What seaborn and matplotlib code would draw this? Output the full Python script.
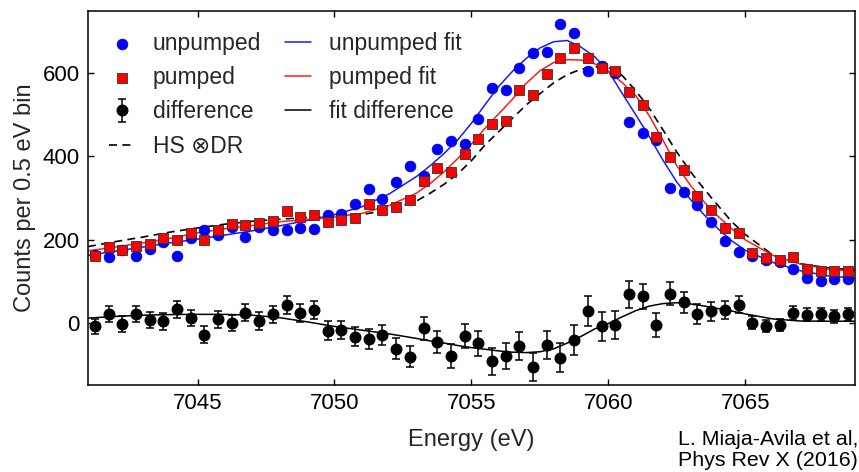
import matplotlib
matplotlib.use("Agg")
import matplotlib.pyplot as plt
import seaborn as sns

# ---------------- data ----------------
energy = [7041.25, 7041.75, 7042.25, 7042.75, 7043.25, 7043.75, 7044.25, 7044.75,
          7045.25, 7045.75, 7046.25, 7046.75, 7047.25, 7047.75, 7048.25, 7048.75,
          7049.25, 7049.75, 7050.25, 7050.75, 7051.25, 7051.75, 7052.25, 7052.75,
          7053.25, 7053.75, 7054.25, 7054.75, 7055.25, 7055.75, 7056.25, 7056.75,
          7057.25, 7057.75, 7058.25, 7058.75, 7059.25, 7059.75, 7060.25, 7060.75,
          7061.25, 7061.75, 7062.25, 7062.75, 7063.25, 7063.75, 7064.25, 7064.75,
          7065.25, 7065.75, 7066.25, 7066.75, 7067.25, 7067.75, 7068.25, 7068.75]

unpumped = [163, 158, 175, 160, 177, 194, 161, 203, 223, 212, 230, 206, 231, 224,
            223, 228, 225, 259, 261, 285, 321, 298, 338, 376, 352, 418, 436, 431,
            490, 565, 560, 614, 650, 651, 718, 698, 606, 617, 600, 484, 457, 440,
            323, 315, 283, 243, 197, 169, 160, 150, 145, 128, 107, 100, 104, 104]

pumped = [160, 182, 176, 184, 190, 203, 199, 216, 199, 224, 237, 234, 239, 245,
          269, 255, 259, 243, 246, 252, 285, 271, 278, 295, 341, 372, 362, 405,
          443, 477, 485, 561, 547, 599, 636, 661, 636, 612, 606, 555, 523, 447,
          398, 367, 305, 271, 229, 216, 167, 155, 150, 157, 129, 124, 124, 124]

difference = [-9, 20, -3, 20, 7, 3, 32, 11, -29, 8, -1, 24, 4, 20, 42, 23, 31, -19,
              -17, -34, -39, -29, -63, -82, -14, -46, -80, -32, -50, -93, -80, -56,
              -106, -54, -84, -42, 27, -9, -5, 68, 64, -5, 70, 49, 20, 27, 31, 43,
              0, -8, -5, 24, 19, 20, 15, 20]

difference_err = [19, 19, 19, 19, 19, 20, 21, 20, 20, 20, 20, 21, 21, 21,
                  22, 22, 22, 22, 22, 23, 24, 24, 25, 25, 27, 27, 28, 29, 30,
                  32, 32, 33, 34, 34, 35, 36, 36, 35, 34, 32, 30, 29, 27,
                  25, 24, 23, 22, 20, 16, 15, 15, 17, 16, 16, 16, 16]

fit_energy = [7041, 7042, 7043, 7044, 7045, 7046, 7047, 7048, 7049, 7050, 7051, 7052,
              7053, 7053.5, 7054, 7054.5, 7055, 7055.5, 7056, 7056.5, 7057, 7057.5,
              7058, 7058.5, 7059, 7059.5, 7060, 7060.5, 7061, 7061.5, 7062, 7062.5,
              7063, 7063.5, 7064, 7064.5, 7065, 7066, 7067, 7068, 7069]

unpumped_fit = [162, 172, 182, 192, 201, 211, 221, 233, 246, 260, 279, 310,
                352, 378, 407, 440, 480, 525, 569, 605, 636, 661,
                676, 679, 663, 640, 605, 552, 500, 447, 390, 338,
                296, 259, 226, 197, 174, 145, 125, 113, 107]

pumped_fit = [173, 182, 192, 203, 216, 226, 234, 243, 248, 254, 263, 282,
              312, 335, 363, 395, 430, 468, 503, 538, 576, 606,
              626, 633, 632, 623, 605, 578, 546, 497, 438, 377,
              330, 290, 256, 226, 199, 162, 141, 129, 123]

hs_dr = [183, 195, 206, 218, 228, 237, 244, 249, 253, 256, 260, 272,
         293, 312, 333, 358, 390, 428, 460, 492, 524, 551,
         577, 597, 610, 616, 614, 595, 558, 515, 463, 410,
         363, 321, 282, 243, 212, 163, 142, 132, 127]

fit_difference = [11, 15, 18, 19.5, 20, 20, 18, 12, 2, -9, -18, -27,
                  -38, -44, -49, -55, -60, -64, -68, -71, -72, -70,
                  -63, -49, -33, -15, -2, 14, 29, 40, 46, 48,
                  45, 40, 34, 28, 21, 9, 4, 3.5, 3.5]

x_ticks = [7045, 7050, 7055, 7060, 7065]
y_ticks = [0, 200, 400, 600]

# ---------------- style ----------------
sns.set_theme(style="ticks")
plt.rcParams["font.family"] = ["Liberation Sans", "DejaVu Sans"]
plt.rcParams["axes.linewidth"] = 1.1
plt.rcParams["axes.edgecolor"] = "black"

fig = plt.figure(figsize=(8.59, 4.72), dpi=100)
ax = fig.add_axes([0.1024, 0.1843, 0.8929, 0.7924])

# fit curves
sns.lineplot(x=fit_energy, y=hs_dr, ax=ax, color="black", lw=1.2,
             linestyle=(0, (4.8, 3.2)), label="HS \u2297DR", zorder=2)
sns.lineplot(x=fit_energy, y=unpumped_fit, ax=ax, color="#1a1aff", lw=1.1,
             label="unpumped fit", zorder=2)
sns.lineplot(x=fit_energy, y=pumped_fit, ax=ax, color="#ff1a1a", lw=1.1,
             label="pumped fit", zorder=2)
sns.lineplot(x=fit_energy, y=fit_difference, ax=ax, color="black", lw=1.1,
             label="fit difference", zorder=2)

# data points
sns.scatterplot(x=energy, y=unpumped, ax=ax, color="#0000ff", marker="o", s=60,
                edgecolor="#0000cc", linewidth=0.5, label="unpumped", zorder=3)
sns.scatterplot(x=energy, y=pumped, ax=ax, color="#ff0000", marker="s", s=60,
                edgecolor="#333333", linewidth=0.6, label="pumped", zorder=4)
ax.errorbar(energy, difference, yerr=difference_err, fmt="o", color="black",
            ms=7.6, capsize=3.2, elinewidth=1.1, capthick=1.1,
            label="difference", zorder=3)

ax.set_xlim(7041, 7069)
ax.set_ylim(-150, 750)
ax.set_xticks(x_ticks)
ax.set_yticks(y_ticks)
ax.tick_params(direction="in", top=True, right=True, length=4.5, width=1,
               labelsize=16, pad=6, colors="black")
ax.set_xlabel("Energy (eV)", fontsize=17, labelpad=10.5)
ax.set_ylabel("Counts per 0.5 eV bin", fontsize=17, labelpad=5)

handles, labels = ax.get_legend_handles_labels()
lookup = dict(zip(labels, handles))
order = ["unpumped", "pumped", "difference", "HS \u2297DR",
         "unpumped fit", "pumped fit", "fit difference"]
ax.legend([lookup[k] for k in order], order, ncol=2, loc="upper left",
          bbox_to_anchor=(0.028, 0.945), frameon=False, fontsize=16.5,
          handlelength=1.1, handletextpad=0.8, columnspacing=1.05,
          labelspacing=0.5, borderpad=0, borderaxespad=0)

fig.text(0.789, 0.004, "L. Miaja-Avila et al,\nPhys Rev X (2016)", ha="left",
         va="bottom", fontsize=15.4, linespacing=1.15, color="black")

fig.savefig("out.png", dpi=100)
